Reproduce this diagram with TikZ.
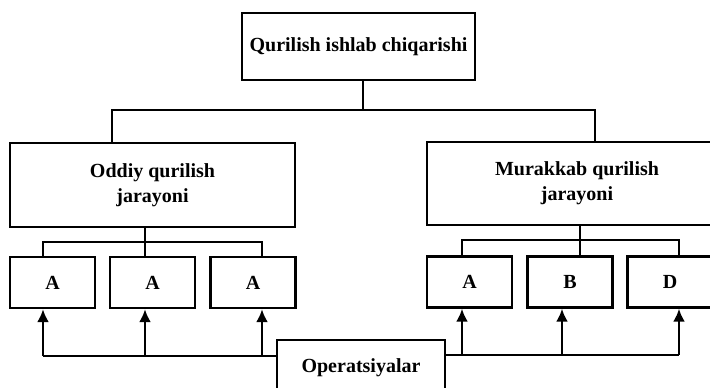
\documentclass[tikz,border=0pt]{standalone}
\usepackage{fontspec}
\setmainfont{Liberation Serif}
\usetikzlibrary{arrows.meta,calc}
\begin{document}
\begin{tikzpicture}[x=1pt,y=-1pt,
  box/.style={draw,line width=2.4pt,inner sep=0pt,align=center,font=\bfseries\fontsize{20}{25}\selectfont},
  sbox/.style={box,minimum width=85pt,minimum height=51pt},
  ln/.style={line width=2.4pt},
  arr/.style={line width=2.4pt,-{Latex[length=13pt,width=12pt]}}]
\useasboundingbox (0,0) rectangle (710,388);
\clip (0,0) rectangle (710,388);
% main boxes
\node[box,minimum width=233pt,minimum height=67pt] (top) at (358.5,46.5) {Qurilish ishlab chiqarishi};
\node[box,minimum width=285pt,minimum height=84pt] (lb) at (152.5,185) {Oddiy qurilish\\jarayoni};
\node[box,minimum width=300pt,minimum height=83pt] (rb) at (577,183.5) {Murakkab qurilish\\jarayoni};
% small boxes
\node[sbox] (a1) at (52.5,282.5) {A};
\node[sbox] (a2) at (152.5,282.5) {A};
\node[sbox] (a3) at (253,282.5) {A};
\node[sbox] (b1) at (469.5,282) {A};
\node[sbox] (b2) at (570,282) {B};
\node[sbox] (b3) at (670,282) {D};
% operations box
\node[box,minimum width=168pt,minimum height=56pt] (op) at (361,368) {Operatsiyalar};
% junction coordinates
\coordinate (jT) at (363,110);
\coordinate (xTL) at (112,0);
\coordinate (xTR) at (595,0);
\coordinate (jL) at (145,242);
\coordinate (xL1) at (43,0);
\coordinate (xL3) at (262,0);
\coordinate (jR) at (580,240);
\coordinate (xR1) at (462,0);
\coordinate (xR2) at (562,0);
\coordinate (xR3) at (679,0);
\coordinate (busL) at (0,356);
\coordinate (busR) at (0,355);
% top tree
\draw[ln] (top.south -| jT) -- (jT);
\draw[ln] (lb.north -| xTL) -- (xTL |- jT) -- (xTR |- jT) -- (rb.north -| xTR);
% left tree
\draw[ln] (lb.south -| jL) -- (jL);
\draw[ln] (a1.north -| xL1) -- (xL1 |- jL) -- (xL3 |- jL) -- (a3.north -| xL3);
\draw[ln] (jL) -- (a2.north -| jL);
% right tree
\draw[ln] (rb.south -| jR) -- (jR);
\draw[ln] (b1.north -| xR1) -- (xR1 |- jR) -- (xR3 |- jR) -- (b3.north -| xR3);
\draw[ln] (jR) -- (b2.north -| jR);
% operation buses
\draw[ln] (xL1 |- busL) -- (op.west |- busL);
\draw[ln] (op.east |- busR) -- (xR3 |- busR);
\draw[arr] (xL1 |- busL) -- (a1.south -| xL1);
\draw[arr] (jL |- busL) -- (a2.south -| jL);
\draw[arr] (xL3 |- busL) -- (a3.south -| xL3);
\draw[arr] (xR1 |- busR) -- (b1.south -| xR1);
\draw[arr] (xR2 |- busR) -- (b2.south -| xR2);
\draw[arr] (xR3 |- busR) -- (b3.south -| xR3);
\end{tikzpicture}
\end{document}
